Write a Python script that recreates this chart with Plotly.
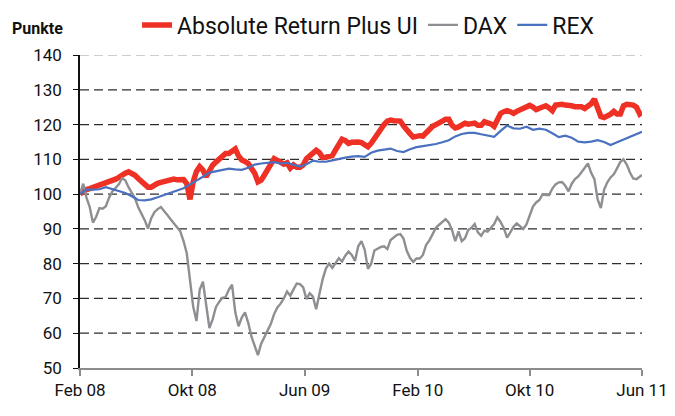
import pandas as pd
import plotly.graph_objects as go

# Observation dates
weekly_dates = list(pd.date_range("2008-02-01", periods=174, freq="7D").strftime("%Y-%m-%d")) + ["2011-06-01"]
biweekly_dates = list(pd.date_range("2008-02-01", periods=87, freq="14D").strftime("%Y-%m-%d")) + ["2011-06-01"]

# Absolute Return Plus UI (weekly)
absolute_return = [
    100, 100.8, 101.3, 101.6, 101.9, 102.2, 102.6, 102.9, 103.2, 103.5,
    103.9, 104.3, 104.8, 105.5, 106, 106.4, 106.1, 105.4, 104.5, 103.6,
    102.6, 102, 102, 102.8, 103.1, 103.4, 103.7, 104, 104.2, 104.3,
    104.1, 104.2, 104.2, 103, 98.5, 103.6, 106.5, 107.9, 106.9, 105,
    106.8, 108.3, 109.2, 110.2, 111, 111.7, 111.7, 112.3, 113, 111,
    109.8, 109.4, 108.8, 107.4, 106, 103.5, 104, 105.5, 107, 108.5,
    110.2, 109.7, 109.1, 108.6, 109, 107.5, 108.4, 107.7, 107.7, 108.4,
    110.2, 110.9, 111.6, 112.6, 111.9, 110.5, 110.6, 110.9, 111.1, 112.7,
    114.7, 115.8, 115.4, 114.6, 114.9, 115, 115, 114.8, 114.4, 113.6,
    114.6, 116, 117.6, 118.7, 120, 121, 121.3, 121.1, 121, 121,
    119.6, 118.3, 117.4, 116.4, 116.8, 116.8, 116.7, 117.8, 118.8, 119.5,
    120, 120.3, 121, 121.5, 121.5, 119.8, 119, 119.3, 119.8, 120.4,
    120.1, 120.1, 120.4, 119.8, 119.8, 120.8, 120.6, 120.2, 119.5, 121.2,
    123.2, 123.7, 124, 123.7, 123.2, 123.8, 124.3, 124.6, 124.9, 125.5,
    125, 124.3, 124.7, 125.1, 125.4, 124.8, 124, 125.6, 125.9, 125.8,
    125.6, 125.6, 125.4, 125.1, 125.1, 125.1, 124.6, 125.2, 126, 127.3,
    125.2, 122.3, 122, 122.4, 123, 123.8, 123, 123, 125.4, 125.8,
    125.8, 125.6, 125, 123.1, 123.7,
]

# DAX (weekly)
dax = [
    100, 103, 99, 96.3, 91.8, 93.5, 96, 95.8, 96.5, 99,
    100.8, 101.8, 102.8, 104.6, 104, 102, 100.5, 98.8, 96.2, 94.3,
    92.5, 90.1, 93, 94.8, 95.7, 96.3, 95, 94, 92.8, 91.8,
    90.5, 89.3, 86.5, 83, 76, 67.6, 63.5, 72.5, 74.8, 68.7,
    61.5, 64, 67.5, 69, 70.2, 70.4, 72.5, 74, 66, 62,
    64.5, 66, 63, 59, 56.5, 53.7, 57, 59, 61, 62.7,
    65.5, 67.4, 68.5, 70, 72, 70.8, 72.6, 74.3, 74.1, 73.2,
    69.8, 71.5, 70.5, 66.9, 71.3, 75.5, 78.6, 80, 78.8, 80.4,
    81.6, 80.6, 82.3, 83.5, 82.5, 80.8, 85, 86.5, 84, 78.5,
    80, 83.8, 84.4, 84.8, 85, 84.2, 86.8, 87.6, 88.3, 88.5,
    87.2, 83.7, 81.7, 80.5, 81.5, 81.5, 82.5, 85.4, 86.7, 88.5,
    90.3, 91.2, 92, 92.8, 91.8, 89.6, 86.5, 89.3, 86.5, 87.3,
    89.7, 90.3, 91.4, 89, 88, 89.5, 89.2, 90.4, 91.4, 93.3,
    92, 90.2, 87.5, 89, 90.6, 91.6, 90.9, 90, 91.3, 94,
    96.4, 97.6, 98.3, 100, 99.7, 99.7, 101.6, 102.8, 103.4, 103.5,
    102.4, 100.8, 103, 104.3, 105.1, 106.3, 107.7, 108.8, 106.1, 104.3,
    98.5, 96, 101.3, 103.4, 104.8, 105.7, 107.4, 109.2, 110, 108.5,
    106.2, 104.5, 104.3, 105, 105.5,
]

# REX (biweekly)
rex = [
    100, 101.3, 101.3, 101.4, 102, 101.4, 100.9, 100.3, 99.4, 98.3,
    98.2, 98.5, 99.1, 99.8, 100.4, 101.1, 101.7, 102.8, 103.8, 105,
    106.2, 106.5, 107, 107.3, 107.1, 107, 107.6, 108.5, 108.8, 109.1,
    109.2, 108.8, 109, 108.4, 107.9, 108.6, 109.6, 109.3, 109.3, 109.7,
    110.2, 110.5, 110.8, 110.9, 110.7, 111.9, 112.5, 112.8, 113.1, 112.4,
    112.1, 112.9, 113.5, 113.8, 114, 114.4, 114.9, 115.5, 116.6, 117.3,
    117.6, 117.6, 117.2, 116.9, 116.5, 118.2, 119.7, 118.9, 118.8, 119.4,
    118.5, 118.8, 118.5, 117.5, 116.4, 116.8, 116.2, 115.1, 114.9, 115.1,
    115.5, 115, 114.1, 114.9, 115.7, 116.5, 117.2, 117.9,
]

tick_dates = ["2008-02-01", "2008-10-01", "2009-06-01", "2010-02-01", "2010-10-01", "2011-06-01"]
tick_labels = ["Feb 08", "Okt 08", "Jun 09", "Feb 10", "Okt 10", "Jun 11"]
y_ticks = [50, 60, 70, 80, 90, 100, 110, 120, 130, 140]

FONT = "Roboto, 'Noto Sans', sans-serif"

fig = go.Figure()
fig.add_trace(go.Scatter(x=weekly_dates, y=absolute_return, name="Absolute Return Plus UI",
                         mode="lines", line=dict(color="#ee3124", width=5.5)))
fig.add_trace(go.Scatter(x=weekly_dates, y=dax, name="DAX", mode="lines",
                         line=dict(color="#8e8f93", width=2.4)))
fig.add_trace(go.Scatter(x=biweekly_dates, y=rex, name="REX", mode="lines",
                         line=dict(color="#4a70c0", width=2.2)))

# dashed horizontal grid lines
for v in y_ticks[1:]:
    fig.add_shape(type="line", xref="paper", yref="y", x0=0, x1=1, y0=v, y1=v,
                  line=dict(color="#bdbdbd" if v == 140 else "#2e2e2e", width=1.3, dash="9px,5px"),
                  layer="below")

fig.update_layout(
    width=675, height=416,
    margin=dict(l=72, r=41, t=47, b=56, autoexpand=False),
    paper_bgcolor="white", plot_bgcolor="white",
    font=dict(family=FONT, color="#111111"),
    showlegend=True,
    legend=dict(orientation="h", x=0.1015, y=1.096, xanchor="left", yanchor="middle",
                font=dict(size=23, family=FONT, color="#111111"),
                itemwidth=30, bgcolor="rgba(0,0,0,0)"),
    xaxis=dict(type="date", range=["2008-02-01", "2011-06-01"], tickvals=tick_dates,
               ticktext=tick_labels, showgrid=False, showline=True, linecolor="#8c8c8c",
               linewidth=2, ticks="outside", ticklen=6, tickcolor="#8c8c8c", tickwidth=1.5,
               tickfont=dict(size=17, family=FONT, color="#111111")),
    yaxis=dict(range=[50, 140], tickvals=y_ticks, showgrid=False, showline=True,
               linecolor="#111111", linewidth=1.5, ticks="outside", ticklen=5,
               tickcolor="#111111", tickwidth=1, zeroline=False, ticklabelstandoff=8,
               tickfont=dict(size=17, family=FONT, color="#111111")),
    annotations=[dict(text="<b>Punkte</b>", xref="paper", yref="paper",
                      x=-0.1246, y=1.086, xanchor="left", yanchor="middle", showarrow=False,
                      font=dict(size=16, family=FONT, color="#111111"))],
)

fig.write_html("out.html")
